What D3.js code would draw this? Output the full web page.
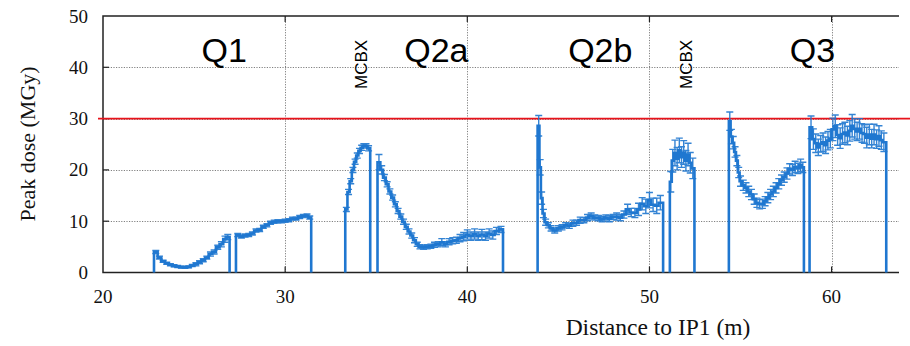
<!DOCTYPE html>
<html>
<head>
  <meta charset="UTF-8">
  <style>
    body { margin: 0; background: #fff; }
    svg { display: block; }
    .tick-label { font-family: "Liberation Serif", "DejaVu Serif", serif; font-size: 19px; fill: #111; }
    .axis-title { font-family: "Liberation Serif", "DejaVu Serif", serif; font-size: 22px; fill: #111; }
    .magnet { font-family: "Liberation Sans", Arial, sans-serif; fill: #000; }
  </style>
</head>
<body>
<svg></svg>
<script src="https://d3js.org/d3.v7.min.js"></script>
<script>
// ---- data: each segment = [start edge, end edge] and bins [x centre, dose, error]
const q1aEdges = [22.8, 26.95];
const q1a = [
  [22.9, 4.0, 0.3], [23.1, 2.9, 0.3], [23.3, 2.2, 0.2], [23.5, 1.8, 0.2], [23.7, 1.5, 0.2],
  [23.9, 1.3, 0.2], [24.1, 1.15, 0.2], [24.3, 1.05, 0.2], [24.5, 1.0, 0.2], [24.7, 1.1, 0.2],
  [24.9, 1.35, 0.2], [25.1, 1.6, 0.3], [25.3, 2.0, 0.3], [25.5, 2.4, 0.3], [25.7, 2.9, 0.3],
  [25.9, 3.6, 0.4], [26.1, 4.0, 0.4], [26.3, 4.9, 0.4], [26.5, 5.5, 0.5], [26.7, 6.5, 0.6], [26.85, 6.9, 0.5]
];
const q1bEdges = [27.3, 31.43];
const q1b = [
  [27.4, 7.3, 0.3], [27.6, 7.0, 0.3], [27.8, 7.2, 0.3], [28.0, 7.3, 0.3], [28.2, 7.6, 0.3],
  [28.4, 8.2, 0.3], [28.6, 8.3, 0.3], [28.8, 8.9, 0.3], [29.0, 9.2, 0.3], [29.2, 9.7, 0.3],
  [29.4, 9.9, 0.3], [29.6, 10.0, 0.3], [29.8, 10.0, 0.3], [30.0, 10.1, 0.3], [30.2, 10.2, 0.3],
  [30.4, 10.5, 0.3], [30.6, 10.5, 0.3], [30.8, 10.8, 0.3], [31.0, 11.0, 0.3], [31.2, 11.1, 0.3], [31.35, 10.7, 0.3]
];
const q2aFrontEdges = [33.3, 34.67];
const q2aFront = [
  [33.36, 12.3, 0.4], [33.48, 15.7, 0.5], [33.6, 17.8, 0.5], [33.72, 20.0, 0.5], [33.84, 21.6, 0.5],
  [33.96, 22.8, 0.5], [34.08, 23.7, 0.5], [34.2, 24.3, 0.5], [34.32, 24.7, 0.4], [34.44, 24.7, 0.4], [34.58, 24.2, 0.5]
];
const q2aEdges = [35.07, 41.96];
const q2a = [
  [35.15, 21.5, 1.5], [35.3, 20.0, 0.8], [35.45, 18.5, 0.6], [35.6, 17.2, 0.5], [35.75, 15.8, 0.5],
  [35.9, 14.6, 0.5], [36.05, 13.3, 0.5], [36.2, 12.0, 0.5], [36.35, 10.9, 0.5], [36.5, 9.9, 0.5],
  [36.65, 8.9, 0.5], [36.8, 8.0, 0.5], [36.95, 7.2, 0.5], [37.1, 6.3, 0.5], [37.25, 5.5, 0.4],
  [37.4, 5.0, 0.4], [37.6, 4.9, 0.4], [37.8, 5.0, 0.4], [38.0, 5.1, 0.4], [38.2, 5.4, 0.5],
  [38.4, 5.5, 0.5], [38.6, 5.9, 0.7], [38.8, 5.5, 0.5], [39.0, 6.0, 0.6], [39.2, 6.2, 0.6],
  [39.4, 6.3, 0.6], [39.6, 6.7, 0.7], [39.8, 7.0, 0.8], [40.0, 7.4, 0.9], [40.2, 7.1, 0.8],
  [40.4, 7.5, 1.0], [40.6, 7.1, 0.8], [40.8, 7.4, 1.0], [41.0, 7.1, 0.8], [41.2, 7.6, 0.9],
  [41.4, 7.3, 0.8], [41.6, 8.1, 0.7], [41.85, 8.4, 0.6]
];
const q2bEdges = [43.86, 50.75];
const q2b = [
  [43.92, 28.6, 2.0], [44.0, 20.5, 1.5], [44.08, 14.5, 1.2], [44.18, 11.5, 0.8], [44.3, 9.8, 0.6],
  [44.45, 9.2, 0.5], [44.6, 8.6, 0.5], [44.8, 8.2, 0.5], [45.0, 8.6, 0.5], [45.2, 8.8, 0.5],
  [45.4, 9.2, 0.5], [45.6, 9.1, 0.5], [45.8, 9.6, 0.6], [46.0, 9.7, 0.5], [46.2, 10.2, 0.6],
  [46.4, 10.2, 0.5], [46.6, 10.7, 0.6], [46.8, 11.0, 0.6], [47.0, 10.7, 0.5], [47.2, 10.6, 0.5],
  [47.4, 10.4, 0.5], [47.6, 10.7, 0.5], [47.8, 10.5, 0.6], [48.0, 10.8, 0.5], [48.2, 10.9, 0.7],
  [48.4, 10.7, 0.6], [48.6, 11.3, 0.7], [48.8, 12.3, 1.0], [49.0, 11.7, 0.8], [49.2, 11.6, 0.9],
  [49.4, 12.3, 1.2], [49.6, 13.4, 1.2], [49.8, 12.9, 1.4], [50.0, 14.1, 1.5], [50.2, 13.2, 1.3],
  [50.4, 13.0, 1.5], [50.6, 13.6, 1.4]
];
const mcbxEdges = [51.12, 52.47];
const mcbx = [
  [51.17, 17.7, 2.0], [51.28, 21.8, 2.2], [51.4, 23.3, 2.5], [51.52, 22.2, 2.2], [51.64, 23.8, 2.4],
  [51.76, 22.5, 2.0], [51.88, 23.4, 2.3], [52.0, 21.8, 2.0], [52.12, 23.0, 2.2], [52.24, 21.4, 2.0], [52.38, 20.3, 2.0]
];
const q3aEdges = [54.36, 58.48];
const q3a = [
  [54.41, 29.5, 1.8], [54.5, 26.5, 1.4], [54.6, 25.3, 1.2], [54.7, 23.5, 1.0], [54.8, 21.8, 1.0],
  [54.9, 19.5, 1.0], [55.0, 17.8, 1.0], [55.15, 17.0, 1.0], [55.3, 16.5, 1.0], [55.45, 15.8, 1.0],
  [55.6, 15.2, 1.0], [55.75, 14.3, 1.0], [55.9, 13.6, 0.9], [56.05, 13.3, 0.9], [56.2, 13.4, 0.9],
  [56.35, 13.9, 0.9], [56.5, 14.6, 1.0], [56.65, 15.2, 1.0], [56.8, 15.8, 1.0], [56.95, 16.5, 1.0],
  [57.1, 17.3, 1.0], [57.25, 18.0, 1.0], [57.4, 18.6, 1.0], [57.55, 19.3, 1.1], [57.7, 20.2, 1.0],
  [57.85, 20.0, 1.1], [58.0, 20.6, 1.1], [58.15, 20.3, 1.0], [58.3, 20.9, 1.2], [58.42, 20.5, 1.0]
];
const q3bEdges = [58.79, 63.0];
const q3b = [
  [58.87, 28.3, 2.2], [59.0, 26.0, 2.0], [59.13, 25.2, 1.8], [59.27, 24.4, 1.6], [59.4, 25.1, 1.6],
  [59.53, 25.4, 1.8], [59.67, 24.8, 1.6], [59.8, 25.7, 1.8], [59.93, 26.1, 1.8], [60.07, 27.9, 2.2],
  [60.2, 28.5, 2.2], [60.33, 26.8, 2.0], [60.47, 26.2, 2.0], [60.6, 27.0, 2.0], [60.73, 27.3, 2.0],
  [60.87, 26.7, 1.8], [61.0, 27.6, 2.0], [61.13, 28.6, 2.2], [61.27, 28.0, 2.0], [61.4, 27.5, 1.8],
  [61.53, 28.0, 2.0], [61.67, 27.2, 1.8], [61.8, 27.0, 1.8], [61.93, 26.3, 2.0], [62.07, 26.9, 2.0],
  [62.2, 26.1, 1.8], [62.33, 26.9, 2.0], [62.47, 26.0, 1.8], [62.6, 26.6, 2.0], [62.73, 25.8, 1.8], [62.87, 25.4, 1.8]
];

const xTicks = [20, 30, 40, 50, 60];
const yTicks = [0, 10, 20, 30, 40, 50];
const doseLimit = 30;
const magnetLabels = ["Q1", "Q2a", "Q2b", "Q3"];
const magnetLabelX = [26.65, 38.3, 47.3, 58.95];
const mcbxLabelX = [34.6, 52.45];

const segments = [
  [q1aEdges, q1a], [q1bEdges, q1b], [q2aFrontEdges, q2aFront], [q2aEdges, q2a],
  [q2bEdges, q2b], [mcbxEdges, mcbx], [q3aEdges, q3a], [q3bEdges, q3b]
];

// ---- layout
let width = 910, height = 346;
let margin = { left: 103, right: 11, top: 16, bottom: 73.5 };
let blue = "#1f77d0";

let svg = d3.select("svg")
    .attr("width", width)
    .attr("height", height);

let x = d3.scaleLinear().domain([20, 63.7]).range([margin.left, width - margin.right]);
let y = d3.scaleLinear().domain([0, 50]).range([height - margin.bottom, margin.top]);

// grid (dotted)
let grid = svg.append("g").attr("id", "grid")
    .attr("stroke", "#808080").attr("stroke-width", 1).attr("stroke-dasharray", "1.2,1.4");
grid.selectAll("line.v").data(xTicks.slice(1)).enter().append("line")
    .attr("x1", d => Math.round(x(d)) + 0.5).attr("x2", d => Math.round(x(d)) + 0.5)
    .attr("y1", y(0)).attr("y2", y(50));
grid.selectAll("line.h").data(yTicks.slice(1, -1)).enter().append("line")
    .attr("x1", x(20)).attr("x2", x(63.7))
    .attr("y1", d => Math.round(y(d)) + 0.5).attr("y2", d => Math.round(y(d)) + 0.5);

// small inward ticks
let ticks = svg.append("g").attr("stroke", "#222").attr("stroke-width", 1.2);
xTicks.slice(1).forEach(t => {
    ticks.append("line").attr("x1", x(t)).attr("x2", x(t)).attr("y1", y(0)).attr("y2", y(0) - 6);
    ticks.append("line").attr("x1", x(t)).attr("x2", x(t)).attr("y1", y(50)).attr("y2", y(50) + 6);
});
yTicks.slice(1, -1).forEach(t => {
    ticks.append("line").attr("x1", x(20)).attr("x2", x(20) + 6).attr("y1", y(t)).attr("y2", y(t));
});

// frame: left, bottom, top (no right border)
svg.append("path")
    .attr("d", "M" + x(63.7) + "," + y(50) + "H" + x(20) + "V" + y(0) + "H" + x(63.7))
    .attr("fill", "none").attr("stroke", "#222").attr("stroke-width", 1.5);

// red limit
svg.append("line")
    .attr("x1", x(20) - 5).attr("x2", width)
    .attr("y1", y(doseLimit)).attr("y2", y(doseLimit))
    .attr("stroke", "#e8131b").attr("stroke-width", 1.6);

// tick labels
svg.append("g").selectAll("text").data(xTicks).enter().append("text")
    .attr("class", "tick-label")
    .attr("x", d => x(d)).attr("y", y(0) + 30.5)
    .attr("text-anchor", "middle")
    .text(d => d);
svg.append("g").selectAll("text").data(yTicks).enter().append("text")
    .attr("class", "tick-label")
    .attr("x", x(20) - 15).attr("y", d => y(d) + 6.5)
    .attr("text-anchor", "end")
    .text(d => d);

// axis titles
svg.append("text").attr("class", "axis-title")
    .attr("x", 658).attr("y", 335)
    .attr("text-anchor", "middle")
    .style("font-size", "23.5px")
    .text("Distance to IP1 (m)");
svg.append("text").attr("class", "axis-title")
    .attr("transform", "translate(35," + 144 + ") rotate(-90)")
    .attr("text-anchor", "middle")
    .text("Peak dose (MGy)");

// magnet labels
svg.append("g").selectAll("text").data(magnetLabels).enter().append("text")
    .attr("class", "magnet")
    .attr("x", (d, i) => x(magnetLabelX[i])).attr("y", 62)
    .attr("text-anchor", "middle")
    .style("font-size", "34px")
    .text(d => d);
svg.append("g").selectAll("text").data(mcbxLabelX).enter().append("text")
    .attr("class", "magnet")
    .attr("transform", d => "translate(" + (x(d) - 2) + ",89) rotate(-90)")
    .style("font-size", "17px")
    .text("MCBX");

// step histogram per segment
let line = d3.line().x(d => x(d[0])).y(d => y(d[1])).curve(d3.curveStepAfter);

let plot = svg.append("g").attr("id", "dose");
segments.forEach(([edges, bins]) => {
    let pts = [[edges[0], 0]];
    bins.forEach((b, i) => {
        let left = i === 0 ? edges[0] : (bins[i - 1][0] + b[0]) / 2;
        pts.push([left, b[1]]);
    });
    pts.push([edges[1], 0]);

    // error bars
    let eb = plot.append("g").attr("stroke", blue).attr("stroke-width", 1.4).attr("opacity", 0.9);
    eb.selectAll("path").data(bins).enter().append("path")
        .attr("fill", "none")
        .attr("d", d => {
            let cx = x(d[0]), t = y(d[1] + d[2]), b = y(d[1] - d[2]);
            return "M" + cx + "," + t + "V" + b +
                   "M" + (cx - 3.5) + "," + t + "H" + (cx + 3.5) +
                   "M" + (cx - 3.5) + "," + b + "H" + (cx + 3.5);
        });

    plot.append("path")
        .datum(pts)
        .attr("fill", "none")
        .attr("stroke", blue)
        .attr("stroke-width", 2.6)
        .attr("stroke-linejoin", "miter")
        .attr("d", line);
});
</script>
</body>
</html>
